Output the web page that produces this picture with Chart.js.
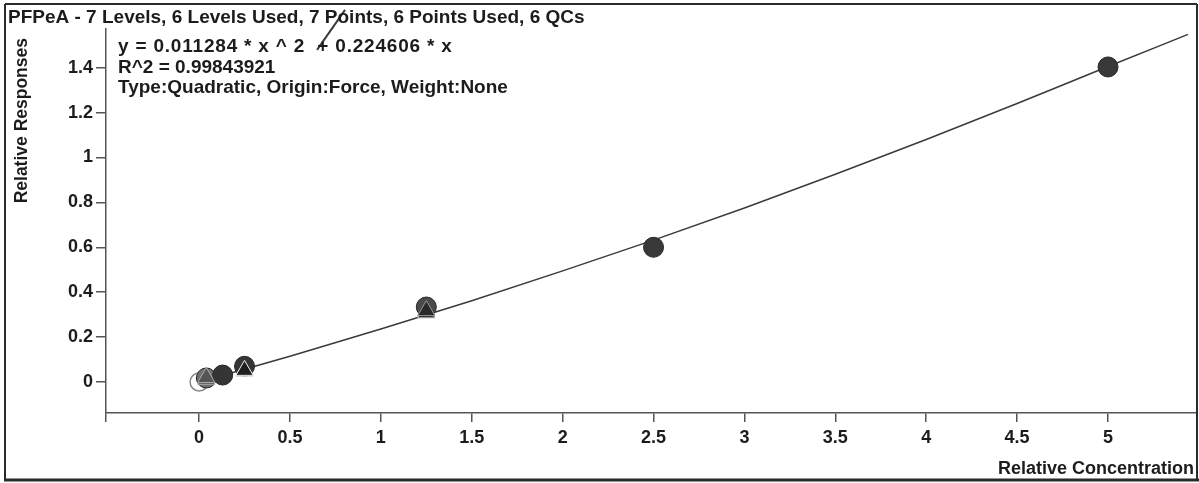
<!DOCTYPE html>
<html>
<head>
<meta charset="utf-8">
<script src="https://cdn.jsdelivr.net/npm/chart.js@4.4.1/dist/chart.umd.min.js"></script>
<style>
  html, body { margin: 0; padding: 0; background: #fff; overflow: hidden; }
  #wrap { width: 1199px; height: 483px; position: relative; }
</style>
</head>
<body>
<div id="wrap"><canvas id="cal-chart"></canvas></div>
<script>
const chartTitle = 'PFPeA - 7 Levels, 6 Levels Used, 7 Points, 6 Points Used, 6 QCs';
const fitLines = [
  'y = 0.011284 * x ^ 2  + 0.224606 * x',
  'R^2 = 0.99843921',
  'Type:Quadratic, Origin:Force, Weight:None'
];
const xTitle = 'Relative Concentration';
const yTitle = 'Relative Responses';

const xTicks = [0, 0.5, 1, 1.5, 2, 2.5, 3, 3.5, 4, 4.5, 5];
const yTicks = [0, 0.2, 0.4, 0.6, 0.8, 1, 1.2, 1.4];

// calibration levels used
const calX = [0.04, 0.13, 0.25, 1.25, 2.5, 5.0];
const calY = [0.018, 0.031, 0.07, 0.334, 0.60, 1.403];
// level not used
const exclX = [0.0];
const exclY = [0.0];
// QC points
const qcX = [0.04, 0.04, 0.25, 0.25, 1.25, 1.25];
const qcY = [0.012, 0.02, 0.048, 0.052, 0.308, 0.318];
// fitted curve
const curveX = [0, 0.5, 1, 1.5, 2, 2.5, 3, 3.5, 4, 4.5, 5, 5.44];
const curveY = [0, 0.115, 0.236, 0.362, 0.495, 0.632, 0.775, 0.925, 1.08, 1.24, 1.405, 1.548];
// hand-drawn pen stroke over the equation
const penX = [0.649, 0.803];
const penY = [1.479, 1.657];

const X_MIN = -0.512, X_MAX = 5.484;
const Y_MIN = -0.138, Y_MAX = 1.572;

const FONT = '"Liberation Sans", Arial, sans-serif';
const INK = '#1c1c1c';

function pts(xs, ys) {
  return xs.map((x, i) => ({ x: x, y: ys[i] }));
}

const framePlugin = {
  id: 'frame',
  beforeDraw(chart) {
    const ctx = chart.ctx;
    ctx.save();
    ctx.fillStyle = '#fff';
    ctx.fillRect(0, 0, chart.width, chart.height);
    ctx.restore();
  },
  afterDraw(chart) {
    const ctx = chart.ctx;
    ctx.save();
    ctx.strokeStyle = '#2a2a2a';
    ctx.lineWidth = 2;
    ctx.beginPath();
    ctx.moveTo(5, 4); ctx.lineTo(1197, 4);
    ctx.moveTo(5, 4); ctx.lineTo(5, 480);
    ctx.moveTo(1197, 4); ctx.lineTo(1197, 480);
    ctx.stroke();
    ctx.lineWidth = 3;
    ctx.beginPath();
    ctx.moveTo(4, 480); ctx.lineTo(1199, 480);
    ctx.stroke();

    ctx.fillStyle = INK;
    ctx.textBaseline = 'alphabetic';
    ctx.textAlign = 'left';
    ctx.font = 'bold 19px ' + FONT;
    ctx.fillText(chartTitle, 8, 23);
    ctx.letterSpacing = '0.8px';
    ctx.fillText(fitLines[0], 118, 52);
    ctx.letterSpacing = '0px';
    ctx.fillText(fitLines[1], 118, 73);
    ctx.fillText(fitLines[2], 118, 93);

    ctx.font = 'bold 18px ' + FONT;
    ctx.textAlign = 'right';
    ctx.fillText(xTitle, 1194, 474);

    ctx.font = 'bold 17.5px ' + FONT;
    ctx.save();
    ctx.translate(27, 38);
    ctx.rotate(-Math.PI / 2);
    ctx.textAlign = 'right';
    ctx.fillText(yTitle, 0, 0);
    ctx.restore();
    ctx.restore();
  }
};

new Chart(document.getElementById('cal-chart'), {
  type: 'scatter',
  data: {
    datasets: [
      {
        label: 'pen',
        data: pts(penX, penY),
        showLine: true,
        borderColor: '#3a3a3a',
        borderWidth: 2,
        pointRadius: 0,
        clip: false,
        order: 0
      },
      {
        label: 'QC',
        data: pts(qcX, qcY),
        pointStyle: 'triangle',
        pointRadius: 10,
        backgroundColor: ['#555', '#555', '#1e1e1e', '#1e1e1e', '#2a2a2a', '#2a2a2a'],
        borderColor: ['#aaa', '#aaa', '#eee', '#eee', '#bbb', '#999'],
        borderWidth: 1,
        order: 1
      },
      {
        label: 'Calibration',
        data: pts(calX, calY),
        pointStyle: 'circle',
        pointRadius: 10,
        backgroundColor: ['#707070', '#353535', '#353535', '#4a4a4a', '#383838', '#383838'],
        borderColor: '#262626',
        borderWidth: 1,
        order: 2
      },
      {
        label: 'Excluded',
        data: pts(exclX, exclY),
        pointStyle: 'circle',
        pointRadius: 9,
        backgroundColor: 'rgba(255,255,255,0)',
        borderColor: '#8a8a8a',
        borderWidth: 1.5,
        order: 3
      },
      {
        label: 'Fit',
        data: pts(curveX, curveY),
        showLine: true,
        borderColor: '#3a3a3a',
        borderWidth: 1.5,
        pointRadius: 0,
        cubicInterpolationMode: 'monotone',
        order: 4
      }
    ]
  },
  options: {
    responsive: true,
    maintainAspectRatio: false,
    animation: false,
    layout: { autoPadding: false, padding: { top: 29, right: 3, left: 0, bottom: 0 } },
    plugins: {
      legend: { display: false },
      tooltip: { enabled: false },
      title: { display: false }
    },
    scales: {
      x: {
        type: 'linear',
        min: X_MIN,
        max: X_MAX,
        afterFit: s => { s.height = 70; },
        afterBuildTicks: s => { s.ticks = [{ value: X_MIN }].concat(xTicks.map(v => ({ value: v }))); },
        ticks: {
          color: INK,
          font: { family: FONT, size: 18, weight: 'bold' },
          padding: 5,
          maxRotation: 0,
          autoSkip: false,
          callback: v => (v === X_MIN ? '' : String(v))
        },
        grid: { drawOnChartArea: false, drawTicks: true, tickLength: 9, color: '#555', lineWidth: 1.5 },
        border: { display: true, color: '#555', width: 1.5 }
      },
      y: {
        type: 'linear',
        min: Y_MIN,
        max: Y_MAX,
        afterFit: s => { s.width = 106; },
        afterBuildTicks: s => { s.ticks = yTicks.map(v => ({ value: v })); },
        ticks: {
          color: INK,
          font: { family: FONT, size: 18, weight: 'bold' },
          padding: 3,
          autoSkip: false,
          callback: v => String(v)
        },
        grid: { drawOnChartArea: false, drawTicks: true, tickLength: 10, color: '#555', lineWidth: 1.5 },
        border: { display: true, color: '#555', width: 1.5 }
      }
    }
  },
  plugins: [framePlugin]
});
</script>
</body>
</html>
